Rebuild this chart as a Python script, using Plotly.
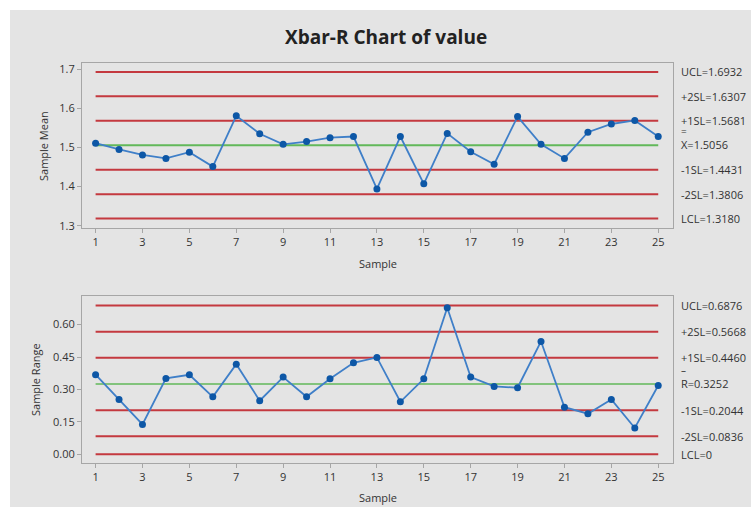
import plotly.graph_objects as go

samples = list(range(1, 26))
sample_means = [1.511, 1.495, 1.481, 1.472, 1.488, 1.451, 1.581, 1.535, 1.508, 1.515,
                1.525, 1.528, 1.394, 1.528, 1.407, 1.536, 1.489, 1.457, 1.579, 1.508,
                1.472, 1.539, 1.560, 1.569, 1.528]
sample_ranges = [0.368, 0.254, 0.138, 0.351, 0.368, 0.266, 0.417, 0.248, 0.357, 0.266,
                 0.349, 0.423, 0.448, 0.243, 0.349, 0.678, 0.357, 0.314, 0.308, 0.522,
                 0.218, 0.188, 0.254, 0.122, 0.318]

mean_limits = {"UCL": 1.6932, "+2SL": 1.6307, "+1SL": 1.5681, "X": 1.5056,
               "-1SL": 1.4431, "-2SL": 1.3806, "LCL": 1.3180}
range_limits = {"UCL": 0.6876, "+2SL": 0.5668, "+1SL": 0.4460, "R": 0.3252,
                "-1SL": 0.2044, "-2SL": 0.0836, "LCL": 0.0}
mean_labels = ["UCL=1.6932", "+2SL=1.6307", "+1SL=1.5681", "X=1.5056",
               "-1SL=1.4431", "-2SL=1.3806", "LCL=1.3180"]
range_labels = ["UCL=0.6876", "+2SL=0.5668", "+1SL=0.4460", "R=0.3252",
                "-1SL=0.2044", "-2SL=0.0836", "LCL=0"]
mean_ticks = [1.3, 1.4, 1.5, 1.6, 1.7]
range_ticks = [0.0, 0.15, 0.30, 0.45, 0.60]
x_ticks = list(range(1, 26, 2))

W, H = 751, 507
L, R, T, B = 82, 78, 63, 44
PW, PH = W - L - R, H - T - B

def px(xp):
    return (xp - L) / PW

def py(yp):
    return (H - B - yp) / PH

FONT = "Open Sans"
TXT = "#333333"
RED = "#c4393f"
GREEN = "#62b85a"
BLUE_LINE = "#3f7fc8"
BLUE_MK = "#0d57a6"

fig = go.Figure()

def add_limits(vals, xa, ya, center_key, green_w):
    for k, v in vals.items():
        is_c = k == center_key
        fig.add_trace(go.Scatter(x=[samples[0], samples[-1]], y=[v, v], mode="lines",
                                 line=dict(color=GREEN if is_c else RED,
                                           width=green_w if is_c else 2),
                                 xaxis=xa, yaxis=ya, hoverinfo="skip", showlegend=False))

add_limits(mean_limits, "x", "y", "X", 2.2)
add_limits(range_limits, "x2", "y2", "R", 1.6)

fig.add_trace(go.Scatter(x=samples, y=sample_means, mode="lines+markers",
                         line=dict(color=BLUE_LINE, width=1.8),
                         marker=dict(color=BLUE_MK, size=7),
                         xaxis="x", yaxis="y", showlegend=False))
fig.add_trace(go.Scatter(x=samples, y=sample_ranges, mode="lines+markers",
                         line=dict(color=BLUE_LINE, width=1.8),
                         marker=dict(color=BLUE_MK, size=7),
                         xaxis="x2", yaxis="y2", showlegend=False))

axis_common = dict(showline=True, linecolor="#a6a6a6", linewidth=1, mirror=True,
                   ticks="outside", ticklen=4, tickcolor="#a6a6a6", showgrid=False,
                   zeroline=False, tickfont=dict(family=FONT, size=11, color=TXT))

top_dom = [py(228), py(63)]
bot_dom = [py(463), py(296)]

fig.update_layout(
    width=W, height=H,
    margin=dict(l=L, r=R, t=T, b=B),
    paper_bgcolor="white", plot_bgcolor="white",
    font=dict(family=FONT, color=TXT),
    xaxis=dict(domain=[0, 1], anchor="y", range=[0.42, 25.63], tickvals=x_ticks, **axis_common),
    yaxis=dict(domain=top_dom, anchor="x", range=[1.294, 1.716], tickvals=mean_ticks,
               tickformat=".1f", **axis_common),
    xaxis2=dict(domain=[0, 1], anchor="y2", range=[0.42, 25.63], tickvals=x_ticks, **axis_common),
    yaxis2=dict(domain=bot_dom, anchor="x2", range=[-0.04, 0.732], tickvals=range_ticks,
                tickformat=".2f", **axis_common),
    shapes=[dict(type="rect", xref="paper", yref="paper", layer="below",
                 x0=px(10), x1=px(W + 2), y0=py(H + 2), y1=py(10),
                 fillcolor="#e4e4e4", line=dict(width=0))],
)

ann = []
ann.append(dict(text="<b>Xbar-R Chart of value</b>", xref="paper", yref="paper",
                x=px(386), y=py(37), showarrow=False, xanchor="center", yanchor="middle",
                font=dict(family=FONT, size=19, color="#222222")))
ann.append(dict(text="Sample", xref="paper", yref="paper", x=px(378), y=py(263),
                showarrow=False, xanchor="center", yanchor="middle",
                font=dict(family=FONT, size=11, color=TXT)))
ann.append(dict(text="Sample", xref="paper", yref="paper", x=px(378), y=py(497),
                showarrow=False, xanchor="center", yanchor="middle",
                font=dict(family=FONT, size=11, color=TXT)))
ann.append(dict(text="Sample Mean", xref="paper", yref="paper", x=px(43), y=py(146),
                showarrow=False, xanchor="center", yanchor="middle", textangle=-90,
                font=dict(family=FONT, size=11, color=TXT)))
ann.append(dict(text="Sample Range", xref="paper", yref="paper", x=px(35), y=py(380),
                showarrow=False, xanchor="center", yanchor="middle", textangle=-90,
                font=dict(family=FONT, size=11, color=TXT)))

def label_text(lab, bar):
    if bar:
        return "<span style='font-size:10px'>" + bar + "</span><br>" + lab
    return lab

for lab, (k, v) in zip(mean_labels, mean_limits.items()):
    is_c = k == "X"
    ann.append(dict(text=label_text(lab, "=" if is_c else None), xref="paper", yref="y",
                    x=px(679), y=v, yshift=7 if is_c else 0, showarrow=False,
                    xanchor="left", yanchor="middle", align="left",
                    font=dict(family=FONT, size=11, color=TXT)))
for lab, (k, v) in zip(range_labels, range_limits.items()):
    is_c = k == "R"
    ann.append(dict(text=label_text(lab, "–" if is_c else None), xref="paper", yref="y2",
                    x=px(679), y=v, yshift=7 if is_c else 0, showarrow=False,
                    xanchor="left", yanchor="middle", align="left",
                    font=dict(family=FONT, size=11, color=TXT)))

fig.update_layout(annotations=ann)
fig.write_html("out.html", config={"displayModeBar": False},
               post_script="document.body.style.margin='0';document.body.style.overflow='hidden';")
